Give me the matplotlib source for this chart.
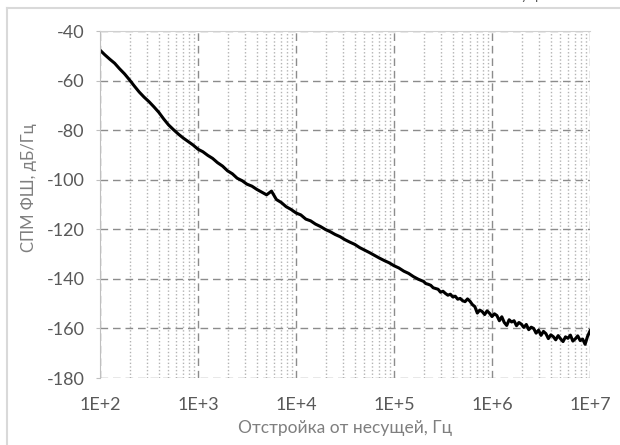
import matplotlib
matplotlib.use("Agg")
import matplotlib.pyplot as plt
from matplotlib.ticker import FixedLocator, FuncFormatter, NullFormatter
from matplotlib.lines import Line2D

# frequency grid: 20 and 40 points per decade
mant20 = [1.00, 1.12, 1.26, 1.41, 1.58, 1.78, 2.00, 2.24, 2.51, 2.82,
          3.16, 3.55, 3.98, 4.47, 5.01, 5.62, 6.31, 7.08, 7.94, 8.91]
mant40 = [1.000, 1.059, 1.122, 1.189, 1.259, 1.334, 1.413, 1.496, 1.585, 1.679,
          1.778, 1.884, 1.995, 2.113, 2.239, 2.371, 2.512, 2.661, 2.818, 2.985,
          3.162, 3.350, 3.548, 3.758, 3.981, 4.217, 4.467, 4.732, 5.012, 5.309,
          5.623, 5.957, 6.310, 6.683, 7.079, 7.499, 7.943, 8.414, 8.913, 9.441]

freq_lo = [m * 10**e for e in (2, 3, 4) for m in mant20] + [m * 1e5 for m in mant20[:6]]
freq_hi = [m * 1e5 for m in mant40[11:]] + [m * 1e6 for m in mant40] + [1e7]

# phase noise PSD, dB/Hz
psd_lo = [-47.7, -49.6, -51.4, -53.0, -55.2, -57.3, -59.7, -62.2, -64.6, -66.7,
          -68.5, -70.6, -72.8, -75.5, -77.9, -79.8, -81.6, -83.2, -84.6, -86.0,
          -87.7, -88.7, -90.2, -91.4, -93.1, -94.5, -96.4, -97.6, -99.4, -100.4,
          -101.8, -102.6, -103.9, -105.0, -106.1, -104.6, -108.0, -109.2, -110.9, -112.0,
          -113.4, -114.2, -115.9, -116.6, -117.9, -118.9, -120.1, -121.0, -122.1, -123.0,
          -124.2, -125.2, -126.1, -127.4, -128.4, -129.4, -130.5, -131.6, -132.6, -133.5,
          -134.7, -135.6, -136.9, -137.8, -139.1, -140.2]
psd_hi = [-140.6, -141.0, -141.9, -142.2, -142.6, -143.6, -143.9, -144.2, -145.4, -145.0,
          -145.9, -146.6, -146.2, -147.3, -147.0, -148.2, -147.9, -148.8, -149.2, -148.1,
          -149.0, -150.4, -151.2, -153.8, -152.6, -153.2, -154.4, -152.9, -153.9,
          -155.2, -154.1, -154.8, -156.9, -155.3, -157.6, -158.8, -156.5, -157.4, -156.9,
          -158.9, -157.6, -158.3, -159.6, -158.4, -160.5, -159.5, -160.0, -161.9, -160.7,
          -162.8, -161.2, -162.1, -164.1, -162.6, -163.3, -164.6, -162.9, -164.2, -165.3,
          -163.4, -164.0, -162.7, -165.1, -164.2, -163.0, -164.9, -164.3, -166.4, -163.2,
          -161.0]

freq = freq_lo + freq_hi
psd = psd_lo + psd_hi

x_major = [1e2, 1e3, 1e4, 1e5, 1e6, 1e7]
x_labels = ["1E+2", "1E+3", "1E+4", "1E+5", "1E+6", "1E+7"]
y_ticks = [-180, -160, -140, -120, -100, -80, -60, -40]

title = "СПМ фазовых шумов генератора (U$_{\\mathrm{упр}}$ = 0 В)"
xlabel = "Отстройка от несущей, Гц"
ylabel = "СПМ ФШ, дБ/Гц"

plt.rcParams["font.family"] = ["Lato", "DejaVu Sans"]
plt.rcParams["mathtext.fontset"] = "custom"
plt.rcParams["mathtext.rm"] = "Lato"
plt.rcParams["axes.unicode_minus"] = False
plt.rcParams["lines.scale_dashes"] = False

W, H = 620, 445
fig = plt.figure(figsize=(6.2, 4.45), dpi=100)
ax = fig.add_axes([100 / W, 1 - 378 / H, 490 / W, 347 / H])

ax.plot(freq, psd, color="black", lw=2.2, solid_joinstyle="round")

ax.set_xscale("log")
ax.set_xlim(1e2, 1e7)
ax.set_ylim(-180, -40)

ax.xaxis.set_major_locator(FixedLocator(x_major))
ax.xaxis.set_major_formatter(FuncFormatter(lambda v, p: x_labels[x_major.index(v)] if v in x_major else ""))
minors = [m * 10**e for e in range(2, 7) for m in range(2, 10)]
ax.xaxis.set_minor_locator(FixedLocator(minors))
ax.xaxis.set_minor_formatter(NullFormatter())
ax.yaxis.set_major_locator(FixedLocator(y_ticks))
ax.yaxis.set_major_formatter(FuncFormatter(lambda v, p: "%d" % v))

ax.grid(True, which="major", color="#8c8c8c", lw=1.0, linestyle=(0, (5.5, 3.5)))
ax.grid(True, which="minor", axis="x", color="#b3b3b3", lw=1.0, linestyle=(0, (1, 1.6)))
ax.set_axisbelow(True)

for s in ("bottom", "right"):
    ax.spines[s].set_visible(False)
ax.spines["left"].set_color("#bfbfbf")
ax.spines["top"].set_color("#d0d0d0")

ax.tick_params(axis="x", which="both", length=0, pad=14, labelsize=13, labelcolor="#595959")
ax.tick_params(axis="y", length=3, color="#bfbfbf", pad=8, labelsize=13, labelcolor="#595959")

ax.set_xlabel(xlabel, fontsize=12.5, color="#7f7f7f", labelpad=5)
ax.set_ylabel(ylabel, fontsize=12, color="#7f7f7f")
ax.yaxis.set_label_coords(-0.128, 0.55)

# chart area border and clipped title
fig.add_artist(Line2D([7 / W, 7 / W], [0, 1 - 8 / H], color="#d9d9d9", lw=1.5))
fig.add_artist(Line2D([7 / W, 1], [1 - 8 / H, 1 - 8 / H], color="#d9d9d9", lw=1.5))
fig.text(600 / W, 1 + 2 / H, title, ha="right", va="baseline", fontsize=14, color="#595959")

fig.savefig("out.png", dpi=100, facecolor="white")
